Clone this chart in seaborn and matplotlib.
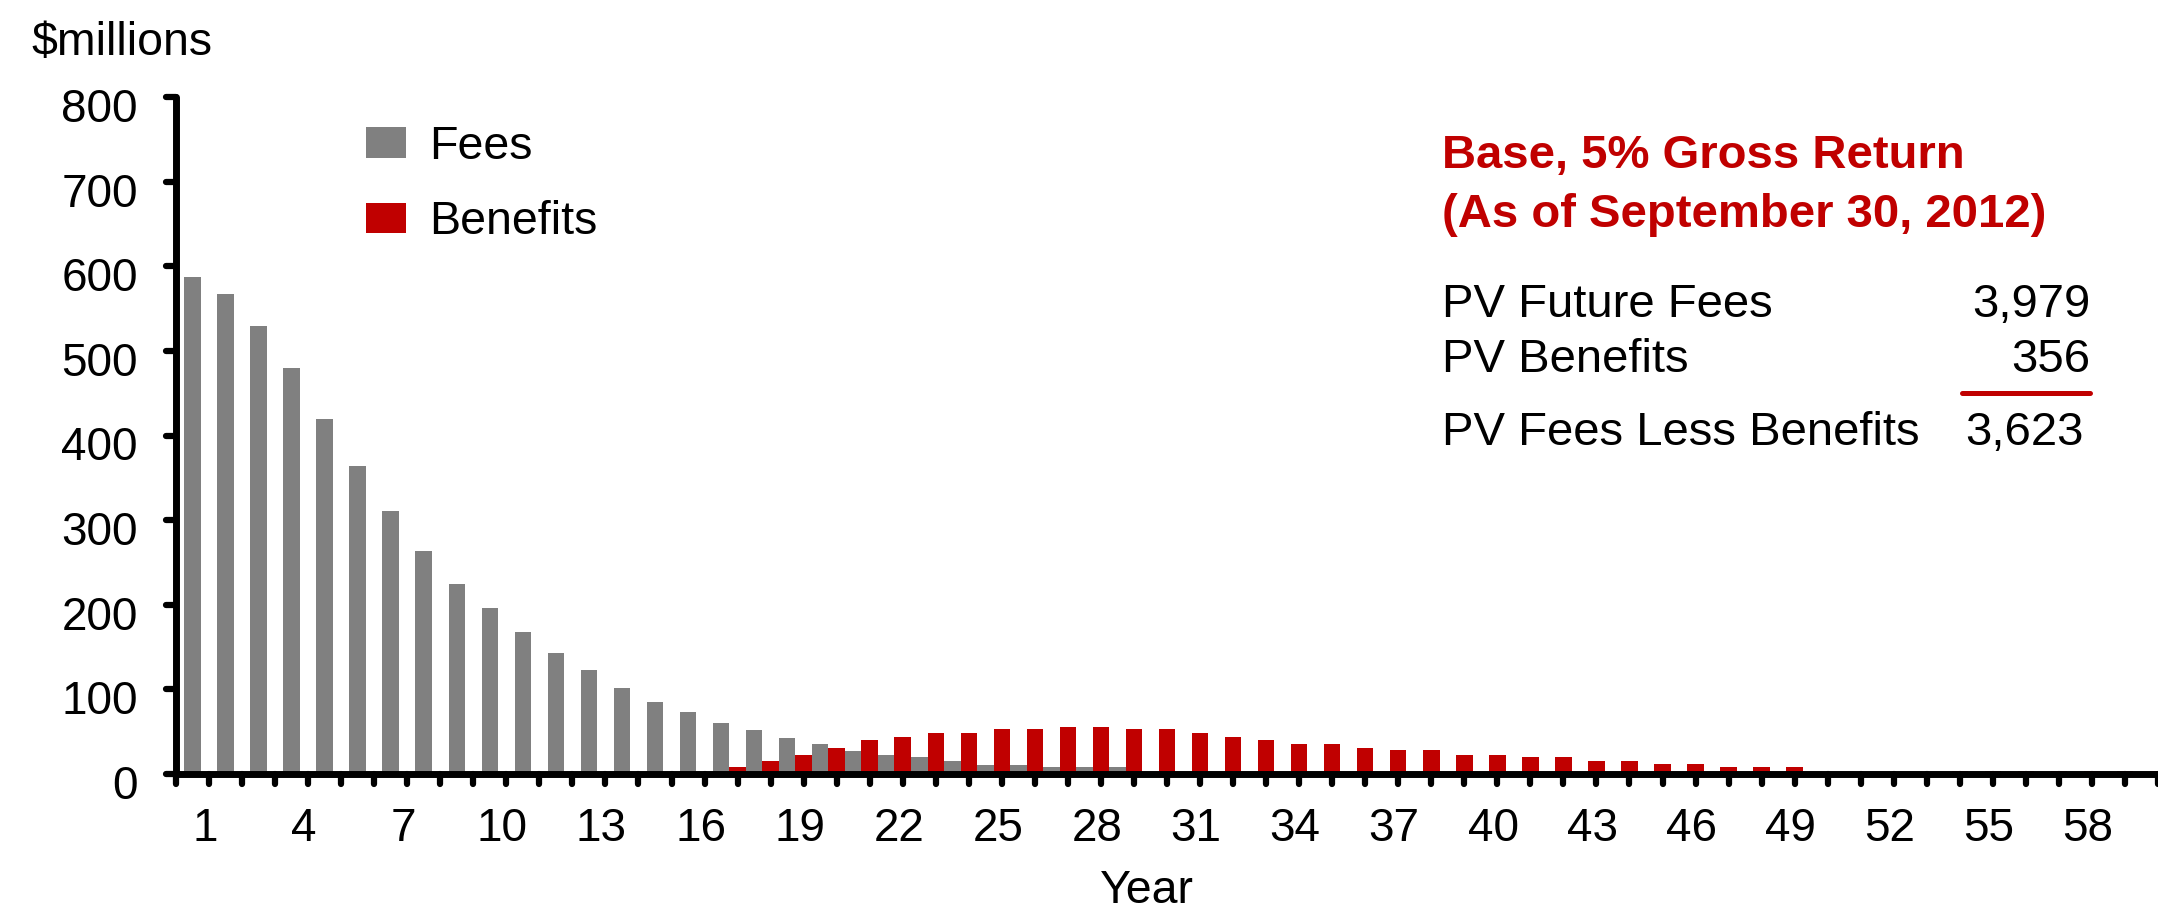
import numpy as np
import pandas as pd
import matplotlib
matplotlib.use("Agg")
import matplotlib.pyplot as plt
from matplotlib.patches import Patch
from matplotlib.transforms import ScaledTranslation
from matplotlib.markers import MarkerStyle
import seaborn as sns

# ---------------- data ----------------
years = list(range(1, 61))
fees = [587, 567, 529, 480, 419, 364, 311, 263, 225, 196,
        168, 143, 123, 102, 85, 73, 60, 52, 43, 36,
        27, 23, 20, 15, 11, 11, 8, 8, 8, 0,
        0, 0, 0, 0, 0, 0, 0, 0, 0, 0,
        0, 0, 0, 0, 0, 0, 0, 0, 0, 0,
        0, 0, 0, 0, 0, 0, 0, 0, 0, 0]
benefits = [0, 0, 0, 0, 0, 0, 0, 0, 0, 0,
            0, 0, 0, 0, 0, 0, 8, 15, 23, 31,
            40, 44, 48, 48, 53, 53, 56, 56, 53, 53,
            48, 44, 40, 36, 36, 31, 28, 28, 23, 23,
            20, 20, 15, 15, 12, 12, 8, 8, 8, 0,
            0, 0, 0, 3, 3, 3, 3, 3, 3, 3]
series_names = ["Fees", "Benefits"]
series_colors = ["#808080", "#C00000"]
y_ticks = [0, 100, 200, 300, 400, 500, 600, 700, 800]
label_every = 3

summary_title = ["Base, 5% Gross Return", "(As of September 30, 2012)"]
summary_labels = ["PV Future Fees", "PV Benefits", "PV Fees Less Benefits"]
summary_values = ["3,979", "356", "3,623"]

# ---------------- style ----------------
sns.set_style("white")
plt.rcParams["font.family"] = ["Liberation Sans", "DejaVu Sans"]
plt.rcParams["text.color"] = "black"
plt.rcParams["axes.labelcolor"] = "black"

W, H, DPI = 2158, 909, 100
fig = plt.figure(figsize=(W / DPI, H / DPI), dpi=DPI)

ax_left, ax_bottom_px, ax_top_px = 176, 774, 97
ax = fig.add_axes([ax_left / W, (H - ax_bottom_px) / H,
                   1 - ax_left / W, (ax_bottom_px - ax_top_px) / H])

df = pd.DataFrame({
    "Year": years * 2,
    "Series": [series_names[0]] * len(years) + [series_names[1]] * len(years),
    "Value": fees + benefits,
})

sns.barplot(data=df, x="Year", y="Value", hue="Series",
            hue_order=series_names,
            palette=dict(zip(series_names, series_colors)),
            width=1.0, saturation=1, linewidth=0, dodge=True,
            legend=False, ax=ax)

ax.set_xlim(-0.75, len(years) - 0.75)
ax.set_ylim(0, 800)

# spines
for s in ["top", "right"]:
    ax.spines[s].set_visible(False)
for s in ["left", "bottom"]:
    ax.spines[s].set_linewidth(5)
    ax.spines[s].set_color("black")
    ax.spines[s].set_capstyle("round")

# ticks
fs_tick = 33
xt = [i + 0.25 for i in range(-1, len(years))]
xl = [""] + [str(y) if (y - 1) % label_every == 0 else "" for y in years]
ax.set_xticks(xt)
ax.set_xticklabels(xl)
ax.set_yticks(y_ticks)
ax.set_yticklabels([str(v) for v in y_ticks])
ax.tick_params(axis="both", which="major", bottom=True, left=True,
               direction="out", length=7.5, width=4.5,
               color="black", labelsize=fs_tick, labelcolor="black")
ax.tick_params(axis="x", pad=16.5)
ax.tick_params(axis="y", pad=20)
ax.set_xlabel("")
ax.set_ylabel("")
ax.grid(False)

for t in ax.xaxis.get_major_ticks() + ax.yaxis.get_major_ticks():
    try:
        t.tick1line.set_marker(MarkerStyle(t.tick1line.get_marker(), capstyle="round"))
    except Exception:
        pass

for lab in ax.get_yticklabels():
    lab.set_transform(lab.get_transform() + ScaledTranslation(0, -8 / DPI, fig.dpi_scale_trans))
for lab in ax.get_xticklabels():
    lab.set_transform(lab.get_transform() + ScaledTranslation(-4 / DPI, 0, fig.dpi_scale_trans))

# axis titles
fig.text(31 / W, 1 - 55 / H, "$millions", fontsize=33.5, color="black", ha="left", va="baseline")
fig.text(1147 / W, 1 - 903 / H, "Year", fontsize=33.5, color="black", ha="center", va="baseline")

# legend
handles = [Patch(facecolor=c, edgecolor="none") for c in series_colors]
leg = ax.legend(handles, series_names, loc="upper left",
                bbox_to_anchor=(366 / W, 1 - 125 / H), bbox_transform=fig.transFigure,
                frameon=False, fontsize=33.5, handlelength=0.87, handleheight=0.63,
                handletextpad=0.48, labelspacing=0.67, borderpad=0, borderaxespad=0)
for txt in leg.get_texts():
    txt.set_color("black")

# summary box
fs_box = 34
red = "#C00000"
x_l = 1442 / W
fig.text(x_l, 1 - 168 / H, summary_title[0], fontsize=fs_box, fontweight="bold",
         color=red, ha="left", va="baseline")
fig.text(x_l, 1 - 227 / H, summary_title[1], fontsize=fs_box, fontweight="bold",
         color=red, ha="left", va="baseline")
rows_y = [317, 372, 445]
val_right = [2090, 2090, 2084]
for lab, val, yb, xr in zip(summary_labels, summary_values, rows_y, val_right):
    fig.text(x_l, 1 - yb / H, lab, fontsize=fs_box, color="black", ha="left", va="baseline")
    fig.text(xr / W, 1 - yb / H, val, fontsize=fs_box, color="black", ha="right", va="baseline")
fig.add_artist(plt.Line2D([1962 / W, 2090 / W], [1 - 393 / H, 1 - 393 / H],
                          transform=fig.transFigure, color=red, linewidth=3.6))

fig.savefig("out.png", dpi=DPI)
